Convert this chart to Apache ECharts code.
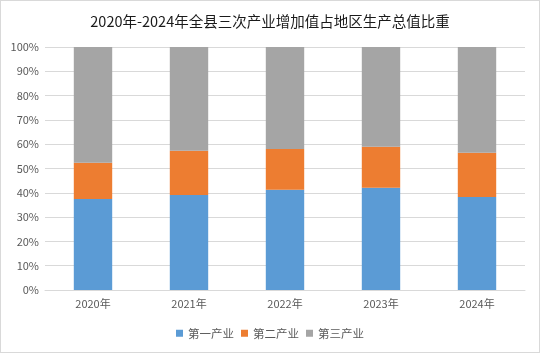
<!DOCTYPE html>
<html>
<head>
<meta charset="utf-8">
<script src="https://cdn.jsdelivr.net/npm/echarts@6/dist/echarts.min.js"></script>
<style>
  html, body { margin: 0; padding: 0; background: #fff; }
  #chart { width: 538px; height: 351px; border: 1px solid #d9d9d9; }
</style>
</head>
<body>
<div id="chart"></div>
<script>
// 年份
const years = ['2020年', '2021年', '2022年', '2023年', '2024年']
// 三次产业占比（%）
const primary = [37.4, 39.1, 41.3, 42.1, 38.3]
const secondary = [15.0, 18.2, 16.7, 16.9, 18.2]
const tertiary = [47.6, 42.7, 42.0, 41.0, 43.5]
const seriesNames = ['第一产业', '第二产业', '第三产业']
const colors = ['#5b9bd5', '#ed7d31', '#a5a5a5']

const chart = echarts.init(document.getElementById('chart'))
const font = '"Microsoft YaHei", "Noto Sans CJK SC", sans-serif'

const option = {
  animation: false,
  color: colors,
  title: {
    text: '2020年-2024年全县三次产业增加值占地区生产总值比重',
    left: 'center',
    top: 8,
    textStyle: { fontSize: 14.5, fontWeight: 'normal', color: '#1a1a1a', fontFamily: font }
  },
  legend: {
    bottom: 8,
    left: 'center',
    itemWidth: 7,
    itemHeight: 7,
    itemGap: 7,
    icon: 'rect',
    textStyle: { fontSize: 11.5, color: '#595959', fontFamily: font },
    data: seriesNames
  },
  grid: { left: 44, right: 14, top: 46, bottom: 62 },
  xAxis: {
    type: 'category',
    data: years,
    axisLine: { lineStyle: { color: '#d9d9d9' } },
    axisTick: { show: false },
    axisLabel: { color: '#595959', fontSize: 11, fontFamily: font, margin: 8 }
  },
  yAxis: {
    type: 'value',
    min: 0,
    max: 100,
    interval: 10,
    axisLine: { show: false },
    axisTick: { show: false },
    splitLine: { lineStyle: { color: '#d9d9d9' } },
    axisLabel: { formatter: '{value}%', color: '#595959', fontSize: 11, fontFamily: font, margin: 6 }
  },
  series: [primary, secondary, tertiary].map((data, i) => ({
    name: seriesNames[i],
    type: 'bar',
    stack: 'total',
    barWidth: '40%',
    data: data
  }))
}
chart.setOption(option)
</script>
</body>
</html>
